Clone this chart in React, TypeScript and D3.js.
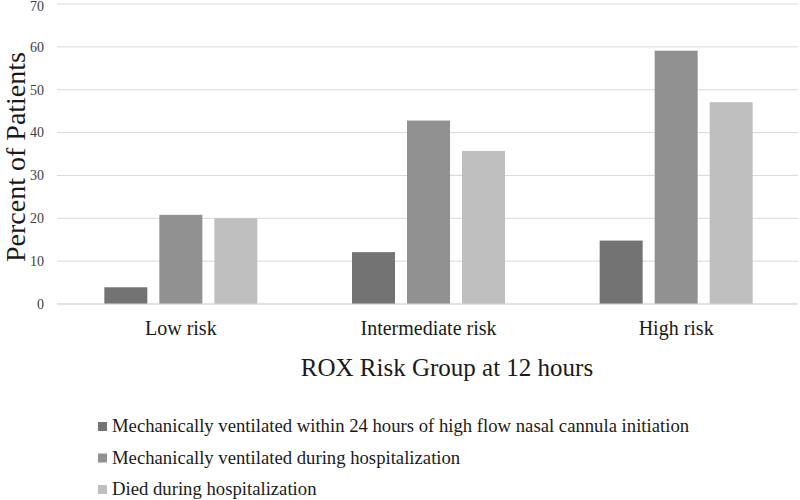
import React from "react";
import * as d3 from "d3";

const categories = ["Low risk", "Intermediate risk", "High risk"];
const seriesNames = [
  "Mechanically ventilated within 24 hours of high flow nasal cannula initiation",
  "Mechanically ventilated during hospitalization",
  "Died during hospitalization",
];
const ventilated24h = [3.9, 12.1, 14.8];
const ventilatedHosp = [20.8, 42.8, 59.1];
const diedHosp = [20.0, 35.7, 47.1];
const seriesValues = [ventilated24h, ventilatedHosp, diedHosp];
const seriesColors = ["#737373", "#919191", "#bfbfbf"];
const yTicks = [0, 10, 20, 30, 40, 50, 60, 70];

const W = 800;
const H = 500;
const FONT = "'Liberation Serif', 'Times New Roman', serif";

export default function App() {
  const left = 57;
  const right = 800;
  const top = 4;
  const bottom = 304;

  const y = d3.scaleLinear().domain([0, 70]).range([bottom, top]);
  const x0 = d3.scaleBand<string>().domain(categories).range([left, right]).padding(0);
  const groupW = 153;
  const x1 = d3
    .scaleBand<number>()
    .domain(d3.range(seriesNames.length))
    .range([0, groupW])
    .paddingInner(12 / 55)
    .paddingOuter(0);

  return (
    <div style={{ position: "absolute", left: 0, top: 0 }}>
      <svg width={W} height={H} style={{ display: "block", background: "#fff" }} fontFamily={FONT}>
        {yTicks.map((t) => (
          <g key={t}>
            <line x1={left} x2={right - 2} y1={y(t)} y2={y(t)} stroke="#d9d9d9" strokeWidth={1} />
            <text x={44} y={Math.max(y(t), 6)} dy="0.35em" textAnchor="end" fontSize={14} fill="#404040">
              {t}
            </text>
          </g>
        ))}
        {categories.map((c, ci) => {
          const cx = (x0(c) as number) + x0.bandwidth() / 2;
          const gx = cx - groupW / 2;
          return (
            <g key={c}>
              {seriesValues.map((vals, si) => (
                <rect
                  key={si}
                  x={gx + (x1(si) as number)}
                  y={y(vals[ci])}
                  width={x1.bandwidth()}
                  height={y(0) - y(vals[ci])}
                  fill={seriesColors[si]}
                />
              ))}
              <text x={cx} y={335} textAnchor="middle" fontSize={20} fill="#1a1a1a">
                {c}
              </text>
            </g>
          );
        })}
        <line x1={left} x2={right - 2} y1={y(0)} y2={y(0)} stroke="#d9d9d9" strokeWidth={1} />
        <text
          transform={`translate(25, 157) rotate(-90)`}
          textAnchor="middle"
          fontSize={28}
          fill="#1a1a1a"
        >
          Percent of Patients
        </text>
        <text x={447} y={376} textAnchor="middle" fontSize={25} fill="#1a1a1a">
          ROX Risk Group at 12 hours
        </text>
        {seriesNames.map((s, i) => {
          const by = 432 + i * 31.5;
          return (
            <g key={s}>
              <rect x={98} y={by - 10} width={9} height={9} fill={seriesColors[i]} />
              <text x={112} y={by} fontSize={18.7} fill="#1a1a1a">
                {s}
              </text>
            </g>
          );
        })}
      </svg>
    </div>
  );
}
